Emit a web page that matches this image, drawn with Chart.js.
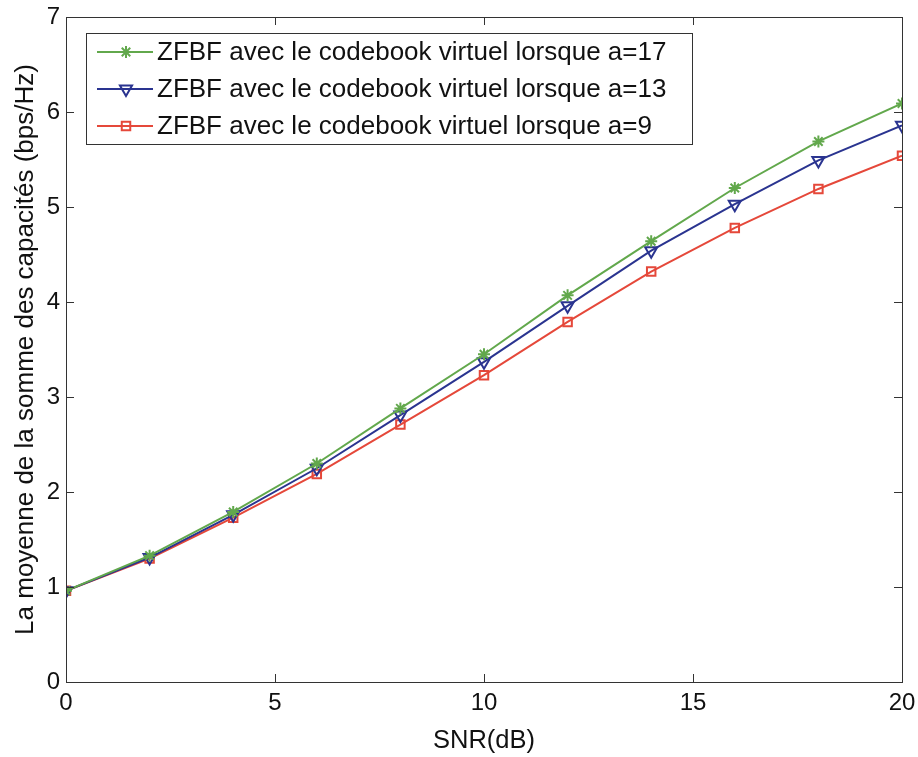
<!DOCTYPE html>
<html lang="fr">
<head>
    <meta charset="UTF-8">
    <title>Somme des capacités vs SNR</title>
    <script src="https://cdn.jsdelivr.net/npm/chart.js"></script>
    <style>
        html, body { margin: 0; padding: 0; background: #fff; }
        #wrap { width: 918px; height: 757px; }
    </style>
</head>
<body>
    <div id="wrap"><canvas id="capChart" width="918" height="757"></canvas></div>

    <script>
        // SNR (dB) et capacités moyennes
        var snr = [0, 2, 4, 6, 8, 10, 12, 14, 16, 18, 20];
        var capA17 = [0.96, 1.33, 1.79, 2.30, 2.88, 3.45, 4.07, 4.64, 5.20, 5.69, 6.09];
        var capA13 = [0.96, 1.31, 1.76, 2.25, 2.81, 3.37, 3.96, 4.54, 5.03, 5.49, 5.86];
        var capA9  = [0.96, 1.30, 1.73, 2.19, 2.71, 3.23, 3.79, 4.32, 4.78, 5.19, 5.54];

        var xTicks = [0, 5, 10, 15, 20];
        var yTicks = [0, 1, 2, 3, 4, 5, 6, 7];

        var labels = [
            'ZFBF avec le codebook virtuel lorsque a=17',
            'ZFBF avec le codebook virtuel lorsque a=13',
            'ZFBF avec le codebook virtuel lorsque a=9'
        ];

        var FONT = '"Liberation Sans", Arial, sans-serif';

        function toPoints(ys) {
            return snr.map(function (x, i) { return { x: x, y: ys[i] }; });
        }

        // Cadre + graduations intérieures (style MATLAB)
        var framePlugin = {
            id: 'frame',
            afterDraw: function (chart) {
                var ctx = chart.ctx, a = chart.chartArea;
                var xs = chart.scales.x, ys = chart.scales.y;
                var len = 8;
                ctx.save();
                ctx.strokeStyle = '#333';
                ctx.lineWidth = 1;
                ctx.strokeRect(a.left + 0.5, a.top + 0.5, a.right - a.left, a.bottom - a.top);
                ctx.beginPath();
                xTicks.forEach(function (v) {
                    var px = Math.round(xs.getPixelForValue(v)) + 0.5;
                    ctx.moveTo(px, a.bottom); ctx.lineTo(px, a.bottom - len);
                    ctx.moveTo(px, a.top); ctx.lineTo(px, a.top + len);
                });
                yTicks.forEach(function (v) {
                    var py = Math.round(ys.getPixelForValue(v)) + 0.5;
                    ctx.moveTo(a.left, py); ctx.lineTo(a.left + len, py);
                    ctx.moveTo(a.right, py); ctx.lineTo(a.right - len, py);
                });
                ctx.stroke();
                ctx.restore();
            }
        };

        // Légende encadrée dans la zone du graphique
        var boxLegend = {
            id: 'boxLegend',
            afterDraw: function (chart) {
                var ctx = chart.ctx;
                var bx = 86, by = 33, bw = 606, bh = 111;
                var rowY = [52, 89, 126];
                ctx.save();
                ctx.fillStyle = '#fff';
                ctx.fillRect(bx, by, bw, bh);
                ctx.strokeStyle = '#333';
                ctx.lineWidth = 1;
                ctx.strokeRect(bx + 0.5, by + 0.5, bw, bh);
                chart.data.datasets.forEach(function (ds, i) {
                    var y = rowY[i];
                    ctx.strokeStyle = ds.borderColor;
                    ctx.lineWidth = ds.borderWidth;
                    ctx.beginPath();
                    ctx.moveTo(97, y); ctx.lineTo(153, y);
                    ctx.stroke();
                    ctx.fillStyle = ds.pointBackgroundColor;
                    ctx.strokeStyle = ds.borderColor;
                    ctx.lineWidth = ds.pointBorderWidth;
                    Chart.helpers.drawPoint(ctx, {
                        pointStyle: ds.pointStyle,
                        radius: ds.pointRadius,
                        rotation: ds.pointRotation || 0,
                        borderWidth: ds.pointBorderWidth
                    }, 126, y);
                    ctx.fillStyle = '#111';
                    ctx.font = '26px ' + FONT;
                    ctx.textBaseline = 'middle';
                    ctx.fillText(ds.label, 157, y + 1);
                });
                ctx.restore();
            }
        };

        var capChart = new Chart(document.getElementById('capChart'), {
            type: 'line',
            data: {
                datasets: [{
                    label: labels[0],
                    data: toPoints(capA17),
                    borderColor: '#62a84c',
                    borderWidth: 2,
                    pointStyle: 'star',
                    pointRadius: 6,
                    pointBorderWidth: 2,
                    pointBackgroundColor: '#62a84c',
                    tension: 0
                }, {
                    label: labels[1],
                    data: toPoints(capA13),
                    borderColor: '#2a3490',
                    borderWidth: 2,
                    pointStyle: 'triangle',
                    pointRotation: 180,
                    pointRadius: 7,
                    pointBorderWidth: 2,
                    pointBackgroundColor: 'rgba(255,255,255,0)',
                    tension: 0
                }, {
                    label: labels[2],
                    data: toPoints(capA9),
                    borderColor: '#e5483a',
                    borderWidth: 2,
                    pointStyle: 'rect',
                    pointRadius: 6,
                    pointBorderWidth: 2,
                    pointBackgroundColor: 'rgba(255,255,255,0)',
                    tension: 0
                }]
            },
            options: {
                responsive: false,
                animation: false,
                layout: { padding: { top: 17, right: 16, left: 0, bottom: 0 } },
                plugins: {
                    legend: { display: false },
                    tooltip: { enabled: false }
                },
                scales: {
                    x: {
                        type: 'linear',
                        min: 0, max: 20,
                        afterFit: function (s) { s.height = 75; s.paddingLeft = 0; s.paddingRight = 0; },
                        afterBuildTicks: function (s) { s.ticks = xTicks.map(function (v) { return { value: v }; }); },
                        grid: { display: false, drawTicks: false },
                        border: { display: false },
                        ticks: { color: '#111', padding: 7, maxRotation: 0, font: { family: FONT, size: 24 } },
                        title: {
                            display: true,
                            text: 'SNR(dB)',
                            color: '#111',
                            padding: { top: 0, bottom: 1 },
                            font: { family: FONT, size: 25.5 }
                        }
                    },
                    y: {
                        min: 0, max: 7,
                        afterFit: function (s) { s.width = 66; s.paddingTop = 0; s.paddingBottom = 0; },
                        afterBuildTicks: function (s) { s.ticks = yTicks.map(function (v) { return { value: v }; }); },
                        grid: { display: false, drawTicks: false },
                        border: { display: false },
                        ticks: { color: '#111', padding: 6, font: { family: FONT, size: 24 } },
                        title: {
                            display: true,
                            text: 'La moyenne de la somme des capacités (bps/Hz)',
                            color: '#111',
                            padding: { top: 10, bottom: 0 },
                            font: { family: FONT, size: 26 }
                        }
                    }
                }
            },
            plugins: [framePlugin, boxLegend]
        });
    </script>
</body>
</html>
